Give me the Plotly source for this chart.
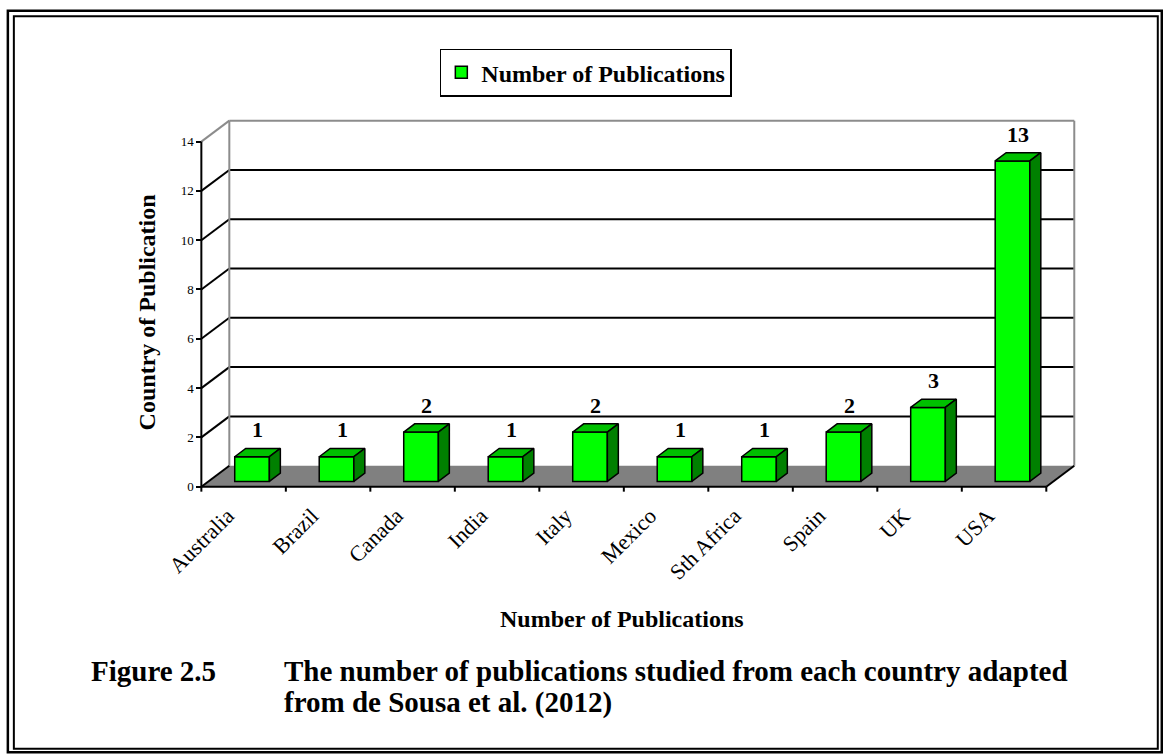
import plotly.graph_objects as go

# ---- data -------------------------------------------------------------
countries = ["Australia", "Brazil", "Canada", "India", "Italy", "Mexico",
             "Sth Africa", "Spain", "UK", "USA"]
publications = [1, 1, 2, 1, 2, 1, 1, 2, 3, 13]
y_ticks = [0, 2, 4, 6, 8, 10, 12, 14]

series_name = "Number of Publications"
x_title = "Number of Publications"
y_title = "Country of Publication"
caption_label = "Figure 2.5"
caption_lines = ["The number of publications studied from each country adapted",
                 "from de Sousa et al. (2012)"]

# ---- styling ----------------------------------------------------------
FONT = "Liberation Serif, Times New Roman, serif"
FIG_W, FIG_H = 1163, 754
FRONT_GREEN, TOP_GREEN, SIDE_GREEN = "#00FF00", "#00C000", "#008000"
FLOOR_GREY, WALL_GREY = "#808080", "#8c8c8c"

# oblique projection: offset of the back wall in axis units
WALL_DX, WALL_DY = 0.331, 0.85
# bar box: width, front-face offset into the depth, and bar depth
BAR_W = 0.41
BAR_DX0, BAR_DY0 = 0.10, 0.215
BAR_DEPTH_X, BAR_DEPTH_Y = 0.13, 0.336

X_RANGE = [-0.3, 10.6]
Y_RANGE = [-0.5, 15.2]
PX_X, PX_Y = 84.5, 24.7          # pixels per axis unit
ORIGIN_PX = (201, 487)           # pixel position of the front (0, 0) corner

left = ORIGIN_PX[0] + X_RANGE[0] * PX_X
right = ORIGIN_PX[0] + X_RANGE[1] * PX_X
top = ORIGIN_PX[1] - Y_RANGE[1] * PX_Y
bottom = ORIGIN_PX[1] - Y_RANGE[0] * PX_Y
plot_w, plot_h = right - left, bottom - top


def paper_x(px):
    return (px - left) / plot_w


def paper_y(py):
    return (bottom - py) / plot_h


n = len(countries)
y_max = y_ticks[-1]

# ---- chart frame: floor, walls and gridlines ---------------------------
shapes = []


def seg(x0, y0, x1, y1, color="black", width=2, layer="below"):
    shapes.append(dict(type="line", xref="x", yref="y", x0=x0, y0=y0, x1=x1, y1=y1,
                       line=dict(color=color, width=width), layer=layer))


shapes.append(dict(type="path", xref="x", yref="y",
                   path=f"M 0,0 L {n},0 L {n + WALL_DX},{WALL_DY} L {WALL_DX},{WALL_DY} Z",
                   fillcolor=FLOOR_GREY, line=dict(width=0), layer="below"))

for v in y_ticks[1:-1]:
    seg(WALL_DX, v + WALL_DY, n + WALL_DX, v + WALL_DY)
    seg(0, v, WALL_DX, v + WALL_DY)

# wall outline
seg(0, y_max, WALL_DX, y_max + WALL_DY, WALL_GREY)
seg(WALL_DX, y_max + WALL_DY, n + WALL_DX, y_max + WALL_DY, WALL_GREY)
seg(WALL_DX, WALL_DY, WALL_DX, y_max + WALL_DY, WALL_GREY)
seg(n + WALL_DX, WALL_DY, n + WALL_DX, y_max + WALL_DY, WALL_GREY)

# floor side edges
seg(0, 0, WALL_DX, WALL_DY)
seg(n, 0, n + WALL_DX, WALL_DY)

# front axes and category ticks
seg(0, 0, 0, y_max, layer="above")
seg(0, 0, n, 0, layer="above")
for k in range(n + 1):
    seg(k, 0, k, -5 / PX_Y, layer="above")

# ---- bars -------------------------------------------------------------
front_x = [i + 0.5 + BAR_DX0 for i in range(n)]

fig = go.Figure()
fig.add_trace(go.Bar(
    x=front_x, y=publications, base=BAR_DY0, width=BAR_W,
    name=series_name, marker=dict(color=FRONT_GREEN, line=dict(color="black", width=1.5)),
    hoverinfo="skip", showlegend=True,
))

top_x, top_y, side_x, side_y = [], [], [], []
for cx, v in zip(front_x, publications):
    x0, x1 = cx - BAR_W / 2, cx + BAR_W / 2
    y0, y1 = BAR_DY0, BAR_DY0 + v
    top_x += [x0, x1, x1 + BAR_DEPTH_X, x0 + BAR_DEPTH_X, x0, None]
    top_y += [y1, y1, y1 + BAR_DEPTH_Y, y1 + BAR_DEPTH_Y, y1, None]
    side_x += [x1, x1 + BAR_DEPTH_X, x1 + BAR_DEPTH_X, x1, x1, None]
    side_y += [y0, y0 + BAR_DEPTH_Y, y1 + BAR_DEPTH_Y, y1, y0, None]

for xs, ys, col in [(top_x, top_y, TOP_GREEN), (side_x, side_y, SIDE_GREEN)]:
    fig.add_trace(go.Scatter(
        x=xs, y=ys, mode="lines", fill="toself", fillcolor=col,
        line=dict(color="black", width=1.5), hoverinfo="skip", showlegend=False,
    ))

# ---- annotations ------------------------------------------------------
annotations = []
for cx, v in zip(front_x, publications):
    annotations.append(dict(
        x=cx + BAR_DEPTH_X / 2, y=v + BAR_DY0 + BAR_DEPTH_Y, xref="x", yref="y",
        text=str(v), showarrow=False, xanchor="center", yanchor="bottom", yshift=4,
        font=dict(family=FONT, size=22, color="black", weight="bold"),
    ))

annotations.append(dict(
    x=paper_x(147), y=paper_y(312), xref="paper", yref="paper", text=y_title,
    textangle=-90, showarrow=False, xanchor="center", yanchor="middle",
    font=dict(family=FONT, size=24, color="black", weight="bold"),
))
annotations.append(dict(
    x=paper_x(622), y=paper_y(620), xref="paper", yref="paper", text=x_title,
    showarrow=False, xanchor="center", yanchor="middle",
    font=dict(family=FONT, size=24, color="black", weight="bold"),
))
cap_font = dict(family=FONT, size=29, color="black", weight="bold")
annotations.append(dict(
    x=paper_x(89), y=paper_y(672), xref="paper", yref="paper", text=caption_label,
    showarrow=False, xanchor="left", yanchor="middle", font=cap_font,
))
for line, ypx in zip(caption_lines, [672, 703]):
    annotations.append(dict(
        x=paper_x(282), y=paper_y(ypx), xref="paper", yref="paper", text=line,
        showarrow=False, xanchor="left", yanchor="middle", font=cap_font,
    ))

# page border (double rule)
for (x0, y0, x1, y1, w) in [(7.5, 10, 1161.5, 753, 2.5), (13.5, 15.5, 1157.5, 749.5, 2)]:
    shapes.append(dict(type="rect", xref="paper", yref="paper",
                       x0=paper_x(x0), x1=paper_x(x1), y0=paper_y(y1), y1=paper_y(y0),
                       line=dict(color="black", width=w), fillcolor="rgba(0,0,0,0)",
                       layer="above"))

fig.update_layout(
    template="none",
    width=FIG_W, height=FIG_H, autosize=False,
    margin=dict(l=left, r=FIG_W - right, t=top, b=FIG_H - bottom, pad=0),
    paper_bgcolor="white", plot_bgcolor="rgba(0,0,0,0)",
    showlegend=True,
    legend=dict(
        x=paper_x(585.5), y=paper_y(48), xanchor="center", yanchor="top",
        bordercolor="black", borderwidth=1.5, bgcolor="white",
        font=dict(family=FONT, size=24, color="black", weight="bold"),
    ),
    xaxis=dict(
        range=X_RANGE, anchor="free", position=paper_y(ORIGIN_PX[1]),
        tickmode="array", tickvals=[i + 0.5 for i in range(n)], ticktext=countries,
        tickangle=-45, ticks="", showgrid=False, zeroline=False, showline=False,
        ticklabelshift=-16, ticklabelstandoff=11,
        tickfont=dict(family=FONT, size=22, color="black"), automargin=False,
    ),
    yaxis=dict(
        range=Y_RANGE, anchor="free", position=paper_x(ORIGIN_PX[0]),
        tickmode="array", tickvals=y_ticks, ticks="outside", ticklen=5, tickwidth=2,
        tickcolor="black", showgrid=False, zeroline=False, showline=False,
        tickfont=dict(family=FONT, size=13, color="black"), automargin=False,
    ),
    shapes=shapes,
    annotations=annotations,
)

fig.write_html("out.html")
